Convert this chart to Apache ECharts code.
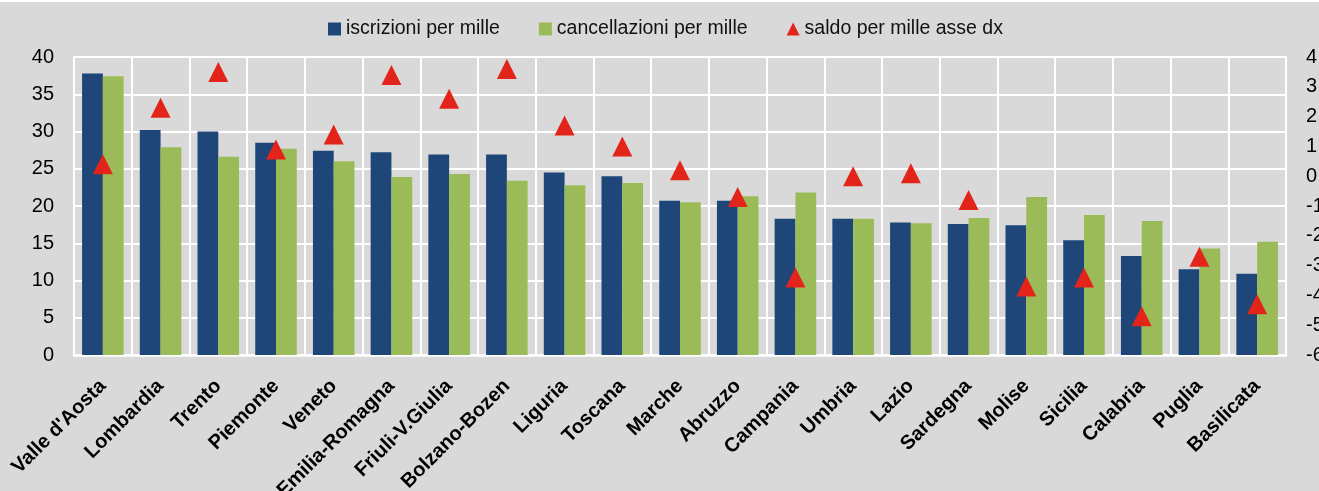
<!DOCTYPE html>
<html>
<head>
<meta charset="utf-8">
<title>iscrizioni e cancellazioni per mille</title>
<script src="https://cdn.jsdelivr.net/npm/echarts@6/dist/echarts.min.js"></script>
<style>
  body { margin: 0; background: #d9d9d9; }
  .charts { width: 1319px; height: 491px; }
  .topline { position: absolute; left: 0; top: 0; width: 1319px; height: 2px; background: #fff; }
</style>
</head>
<body>
<div class="charts" id="main"></div>
<div class="topline"></div>
<script>
// dati
const categories = ["Valle d'Aosta", 'Lombardia', 'Trento', 'Piemonte', 'Veneto', 'Emilia-Romagna', 'Friuli-V.Giulia',
  'Bolzano-Bozen', 'Liguria', 'Toscana', 'Marche', 'Abruzzo', 'Campania', 'Umbria', 'Lazio', 'Sardegna',
  'Molise', 'Sicilia', 'Calabria', 'Puglia', 'Basilicata']
const iscrizioni = [37.8, 30.2, 30.0, 28.5, 27.4, 27.2, 26.9, 26.9, 24.5, 24.0, 20.7, 20.7, 18.3, 18.3, 17.8, 17.6, 17.4, 15.4, 13.3, 11.5, 10.9]
const cancellazioni = [37.4, 27.9, 26.6, 27.7, 26.0, 23.9, 24.3, 23.4, 22.8, 23.1, 20.5, 21.3, 21.8, 18.3, 17.7, 18.4, 21.2, 18.8, 18.0, 14.3, 15.2]
const saldo = [0.4, 2.3, 3.5, 0.9, 1.4, 3.4, 2.6, 3.6, 1.7, 1.0, 0.2, -0.7, -3.4, 0.0, 0.1, -0.8, -3.7, -3.4, -4.7, -2.7, -4.3]
const leftTicks = { min: 0, max: 40, interval: 5 }
const rightTicks = { min: -6, max: 4, interval: 1 }

const font = 'Liberation Sans, Arial, sans-serif'
let mycharts = echarts.init(document.getElementById('main'))

mycharts.setOption({
  animation: false,
  backgroundColor: '#d9d9d9',
  textStyle: { fontFamily: font },
  legend: {
    left: 328,
    top: 19,
    padding: 0,
    itemWidth: 13,
    itemHeight: 13,
    itemGap: 39,
    textStyle: { fontSize: 19.5, color: '#111', fontFamily: font },
    data: [
      { name: 'iscrizioni per mille', icon: 'rect' },
      { name: 'cancellazioni per mille', icon: 'rect' },
      { name: 'saldo per mille asse dx', icon: 'triangle' },
    ],
  },
  grid: { left: 74, right: 33, top: 57, bottom: 136, outerBoundsMode: 'none' },
  xAxis: {
    type: 'category',
    data: categories,
    axisLine: { show: true, lineStyle: { color: '#fff', width: 2.5 } },
    axisTick: { show: false },
    axisLabel: {
      interval: 0,
      rotate: 45,
      margin: 28,
      fontSize: 20,
      fontWeight: 'bold',
      color: '#000',
      fontFamily: font,
    },
    splitLine: { show: true, interval: 0, lineStyle: { color: '#fff', width: 2 } },
  },
  yAxis: [
    {
      type: 'value',
      min: leftTicks.min,
      max: leftTicks.max,
      interval: leftTicks.interval,
      axisLine: { show: true, lineStyle: { color: '#fff', width: 2 } },
      axisTick: { show: false },
      axisLabel: { fontSize: 20, color: '#000', margin: 20, fontFamily: font },
      splitLine: { show: true, lineStyle: { color: '#fff', width: 2 } },
    },
    {
      type: 'value',
      position: 'right',
      min: rightTicks.min,
      max: rightTicks.max,
      interval: rightTicks.interval,
      axisLine: { show: true, lineStyle: { color: '#fff', width: 2 } },
      axisTick: { show: false },
      axisLabel: { fontSize: 20, color: '#000', margin: 20, fontFamily: font },
      splitLine: { show: false },
    },
  ],
  series: [
    {
      name: 'iscrizioni per mille',
      type: 'bar',
      data: iscrizioni,
      barGap: '0%',
      barCategoryGap: '28%',
      itemStyle: { color: '#1f4679' },
    },
    {
      name: 'cancellazioni per mille',
      type: 'bar',
      data: cancellazioni,
      itemStyle: { color: '#9bbb59' },
    },
    {
      name: 'saldo per mille asse dx',
      type: 'scatter',
      yAxisIndex: 1,
      data: saldo,
      symbol: 'triangle',
      symbolSize: [20, 20],
      itemStyle: { color: '#e3241a', opacity: 1 },
      z: 5,
    },
  ],
})
</script>
</body>
</html>
